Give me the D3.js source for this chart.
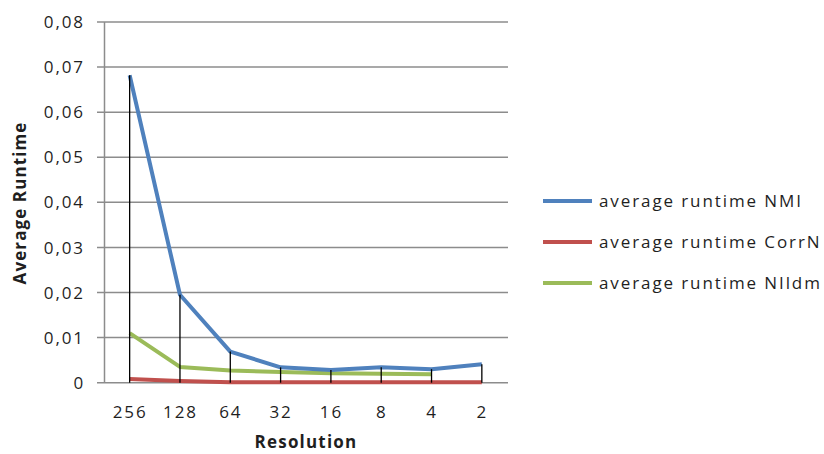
<!DOCTYPE html>
<html><head><meta charset="utf-8">
<script src="https://cdn.jsdelivr.net/npm/d3@7"></script>
<style>body{margin:0;background:#fff}svg{display:block}text{font-family:"Open Sans",sans-serif}</style>
</head><body><svg width="824" height="454"></svg>
<script>
const categories = ["256","128","64","32","16","8","4","2"];
const nmi   = [0.0682,0.0195,0.0069,0.0034,0.0028,0.0034,0.0030,0.0041];
const corrN = [0.0008,0.0004,0.0001,0.0001,0.0001,0.0001,0.0001,0.0001];
const nildm = [0.0110,0.0035,0.0027,0.0024,0.0021,0.0020,0.0019,null];
const yTicks = [0,0.01,0.02,0.03,0.04,0.05,0.06,0.07,0.08];
const seriesNames = ["average runtime NMI","average runtime CorrN","average runtime NIldm"];
const colors = ["#4F81BD","#C0504D","#9BBB59"];

const svg = d3.select("svg");
const x = d3.scalePoint().domain(categories).range([104.5,507]).padding(0.5);
const y = d3.scaleLinear().domain([0,0.08]).range([382.7,22]);
const fmt = d => d===0 ? "0" : d3.format(".2f")(d).replace(".",",");
const FS = 17, LS = "1.9px";

svg.append("g").selectAll("line").data(yTicks).join("line")
  .attr("x1",97).attr("x2",508).attr("y1",d=>y(d)).attr("y2",d=>y(d))
  .attr("stroke","#8c8c8c").attr("stroke-width",1.5);
svg.append("line").attr("x1",104.5).attr("x2",104.5).attr("y1",y(0.08)).attr("y2",y(0))
  .attr("stroke","#8c8c8c").attr("stroke-width",1.5);
svg.append("g").selectAll("text").data(yTicks).join("text")
  .attr("x",85).attr("y",d=>y(d)).attr("dy","0.36em").attr("text-anchor","end")
  .attr("font-size",FS).attr("letter-spacing",LS).attr("fill","#1f1f1f").text(fmt);
svg.append("g").selectAll("text").data(categories).join("text")
  .attr("x",d=>x(d)+0.5).attr("y",412).attr("dy","0.36em").attr("text-anchor","middle")
  .attr("font-size",FS).attr("letter-spacing",LS).attr("fill","#1f1f1f").text(d=>d);

const all = [nmi,corrN,nildm];
const line = d3.line().defined(d=>d.v!=null).x(d=>x(d.c)).y(d=>y(d.v));
[1,2,0].forEach(k=>{
  svg.append("path").datum(categories.map((c,i)=>({c,v:all[k][i]})))
    .attr("d",line).attr("fill","none").attr("stroke",colors[k])
    .attr("stroke-width",4).attr("stroke-linejoin","round");
});
svg.append("g").selectAll("line").data(categories).join("line")
  .attr("x1",d=>x(d)).attr("x2",d=>x(d))
  .attr("y1",(d,i)=>y(d3.max(all,s=>s[i]))).attr("y2",y(0))
  .attr("stroke","#000").attr("stroke-width",1.3);

const ly = [201,242,283];
seriesNames.forEach((n,i)=>{
  svg.append("line").attr("x1",543).attr("x2",592).attr("y1",ly[i]).attr("y2",ly[i])
    .attr("stroke",colors[i]).attr("stroke-width",4);
  svg.append("text").attr("x",599).attr("y",ly[i]).attr("dy","0.36em")
    .attr("font-size",FS).attr("letter-spacing",LS).attr("fill","#1f1f1f").text(n);
});
svg.append("text").attr("transform","translate(20,203) rotate(-90)").attr("text-anchor","middle")
  .attr("dy","0.36em").attr("font-size",FS).attr("letter-spacing","1.1px").attr("font-weight","bold").attr("fill","#1f1f1f").text("Average Runtime");
svg.append("text").attr("x",306).attr("y",448).attr("text-anchor","middle")
  .attr("font-size",FS).attr("letter-spacing","1.2px").attr("font-weight","bold").attr("fill","#1f1f1f").text("Resolution");
</script></body></html>
